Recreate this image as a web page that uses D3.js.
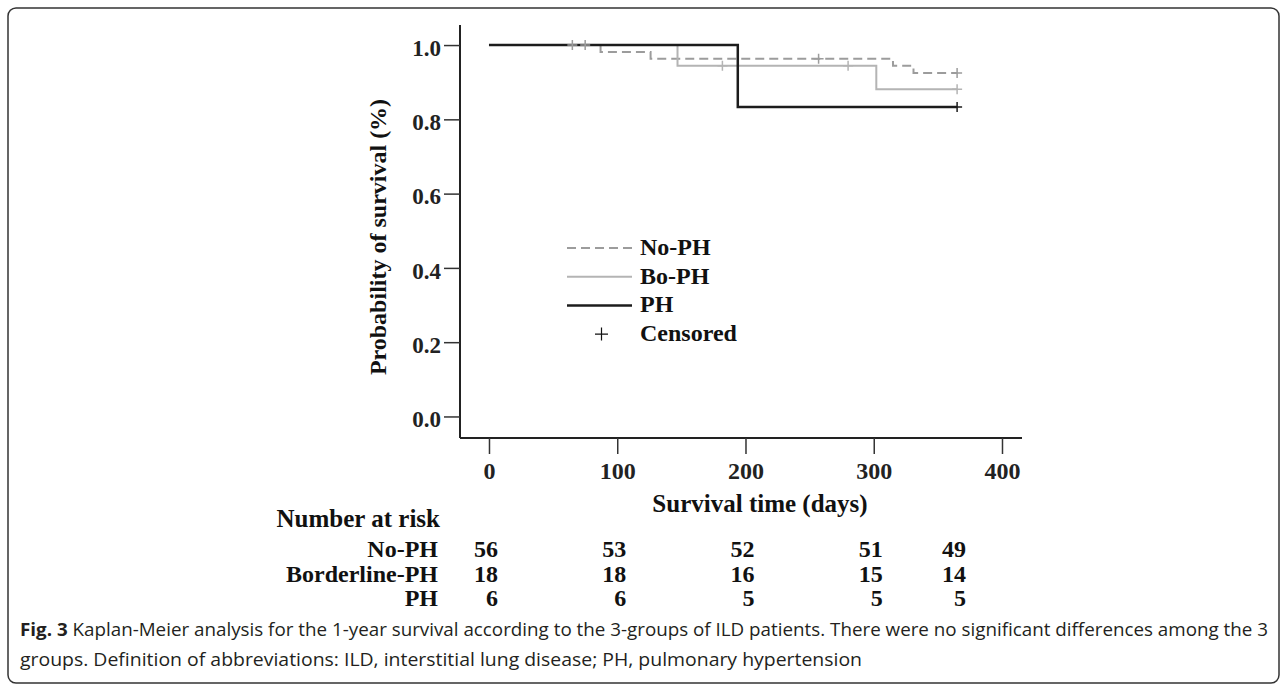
<!DOCTYPE html>
<html>
<head>
<meta charset="utf-8">
<script src="https://cdn.jsdelivr.net/npm/d3@7"></script>
<style>
  body { margin: 0; background: #fff; }
  svg { display: block; }
</style>
</head>
<body>
<script>
// Kaplan-Meier Daten (Zeitpunkte in Tagen, Ueberleben als Anteil)
const noPhTimes = [0, 87, 126, 315, 331];
const noPhSurv = [1, 0.981, 0.963, 0.944, 0.925];
const noPhCensored = [65, 75, 257, 365];

const boPhTimes = [0, 147, 302];
const boPhSurv = [1, 0.944, 0.881];
const boPhCensored = [182, 280, 365];

const phTimes = [0, 194];
const phSurv = [1, 0.833];
const phCensored = [365];

const endTime = 365;

// Achsen-Ticks
const xTicks = [0, 100, 200, 300, 400];
const yTicks = [0, 0.2, 0.4, 0.6, 0.8, 1.0];

// Number at risk Tabelle
const riskTimes = [0, 100, 200, 300, 365];
const riskGroups = ["No-PH", "Borderline-PH", "PH"];
const riskNoPh = [56, 53, 52, 51, 49];
const riskBoPh = [18, 18, 16, 15, 14];
const riskPh = [6, 6, 5, 5, 5];

// Legende
const legendLabels = ["No-PH", "Bo-PH", "PH", "Censored"];

const captionBold = "Fig. 3";
const captionLine1 = " Kaplan-Meier analysis for the 1-year survival according to the 3-groups of ILD patients. There were no significant differences among the 3";
const captionLine2 = "groups. Definition of abbreviations: ILD, interstitial lung disease; PH, pulmonary hypertension";

const serif = "'Liberation Serif', 'Times New Roman', serif";

const series = [
    {name: "No-PH", times: noPhTimes, surv: noPhSurv, censored: noPhCensored, color: "#9c9c9c", width: 2, dash: "9,5"},
    {name: "Bo-PH", times: boPhTimes, surv: boPhSurv, censored: boPhCensored, color: "#b4b4b4", width: 2, dash: null},
    {name: "PH", times: phTimes, surv: phSurv, censored: phCensored, color: "#1c1c1c", width: 2.5, dash: null}
];

const svg = d3.select("body").append("svg")
    .attr("width", 1287)
    .attr("height", 691);

// Rahmen um die Abbildung
svg.append("rect")
    .attr("x", 8).attr("y", 8)
    .attr("width", 1271).attr("height", 675)
    .attr("rx", 8)
    .attr("fill", "none")
    .attr("stroke", "#333")
    .attr("stroke-width", 1.5);

// Skalen
const xScale = d3.scaleLinear()
    .domain([-22.6, 415.6])
    .range([460, 1022]);

const yScale = d3.scaleLinear()
    .domain([-0.058, 1.054])
    .range([438, 25]);

// Achsenlinien
svg.append("line")
    .attr("x1", xScale.range()[0]).attr("x2", xScale.range()[0])
    .attr("y1", yScale.range()[1]).attr("y2", yScale.range()[0])
    .attr("stroke", "#222").attr("stroke-width", 2);
svg.append("line")
    .attr("x1", xScale.range()[0]).attr("x2", xScale.range()[1])
    .attr("y1", yScale.range()[0]).attr("y2", yScale.range()[0])
    .attr("stroke", "#222").attr("stroke-width", 2);

// Y-Achse
const yAxis = svg.append("g")
    .attr("transform", `translate(${xScale.range()[0]},0)`)
    .call(d3.axisLeft(yScale).tickValues(yTicks).tickFormat(d3.format(".1f")).tickSize(16).tickPadding(3));
yAxis.select(".domain").remove();
yAxis.selectAll("line").attr("stroke", "#333").attr("stroke-width", 1.5);
yAxis.selectAll("text")
    .attr("font-family", serif).attr("font-weight", "bold").attr("font-size", 23)
    .attr("fill", "#222").attr("dy", "0.45em");

// X-Achse
const xAxis = svg.append("g")
    .attr("transform", `translate(0,${yScale.range()[0]})`)
    .call(d3.axisBottom(xScale).tickValues(xTicks).tickFormat(d3.format("d")).tickSize(16).tickPadding(8));
xAxis.select(".domain").remove();
xAxis.selectAll("line").attr("stroke", "#333").attr("stroke-width", 1.5);
xAxis.selectAll("text")
    .attr("font-family", serif).attr("font-weight", "bold").attr("font-size", 24)
    .attr("fill", "#222").attr("dy", "0.71em");

// Achsentitel
svg.append("text")
    .attr("x", 760).attr("y", 512)
    .attr("text-anchor", "middle")
    .attr("font-family", serif).attr("font-weight", "bold").attr("font-size", 25)
    .attr("fill", "#111")
    .text("Survival time (days)");

svg.append("text")
    .attr("transform", "translate(386,237) rotate(-90)")
    .attr("text-anchor", "middle")
    .attr("font-family", serif).attr("font-weight", "bold").attr("font-size", 24)
    .attr("fill", "#111")
    .text("Probability of survival (%)");

// Stufenkurven
const line = d3.line()
    .x(d => xScale(d[0]))
    .y(d => yScale(d[1]))
    .curve(d3.curveStepAfter);

series.forEach(s => {
    const pts = s.times.map((t, i) => [t, s.surv[i]]);
    pts.push([endTime, s.surv[s.surv.length - 1]]);
    svg.append("path")
        .datum(pts)
        .attr("d", line)
        .attr("fill", "none")
        .attr("stroke", s.color)
        .attr("stroke-width", s.width)
        .attr("stroke-dasharray", s.dash);
});

// Zensierte Beobachtungen als "+"
function survAt(s, t) {
    let v = s.surv[0];
    s.times.forEach((tt, i) => { if (tt <= t) v = s.surv[i]; });
    return v;
}

series.forEach(s => {
    svg.selectAll(null)
        .data(s.censored)
        .join("path")
        .attr("d", d => {
            const cx = xScale(d), cy = yScale(survAt(s, d));
            return `M${cx - 5},${cy}H${cx + 5}M${cx},${cy - 5}V${cy + 5}`;
        })
        .attr("fill", "none")
        .attr("stroke", s.color)
        .attr("stroke-width", 1.5);
});

// Legende
const legend = svg.append("g");
legendLabels.forEach((label, i) => {
    const by = 255 + i * 28.7;
    const s = series[i];
    if (s) {
        legend.append("line")
            .attr("x1", 567).attr("x2", 632)
            .attr("y1", by - 7).attr("y2", by - 7)
            .attr("stroke", s.color)
            .attr("stroke-width", s.width)
            .attr("stroke-dasharray", s.dash);
    } else {
        legend.append("path")
            .attr("d", `M${595},${by - 7}H${608}M${601.5},${by - 13.5}V${by - 0.5}`)
            .attr("stroke", "#111")
            .attr("stroke-width", 1.2);
    }
    legend.append("text")
        .attr("x", 640).attr("y", by)
        .attr("font-family", serif).attr("font-weight", "bold").attr("font-size", 24)
        .attr("fill", "#111")
        .text(label);
});

// Number at risk Tabelle
const riskRows = [riskNoPh, riskBoPh, riskPh];
svg.append("text")
    .attr("x", 440).attr("y", 527)
    .attr("text-anchor", "end")
    .attr("font-family", serif).attr("font-weight", "bold").attr("font-size", 25)
    .attr("fill", "#111")
    .text("Number at risk");

riskRows.forEach((row, r) => {
    const by = 557 + r * 24.5;
    svg.append("text")
        .attr("x", 438).attr("y", by)
        .attr("text-anchor", "end")
        .attr("font-family", serif).attr("font-weight", "bold").attr("font-size", 24)
        .attr("fill", "#111")
        .text(riskGroups[r]);
    svg.selectAll(null)
        .data(row)
        .join("text")
        .attr("x", (d, i) => xScale(riskTimes[i]) + 9)
        .attr("y", by)
        .attr("text-anchor", "end")
        .attr("font-family", serif).attr("font-weight", "bold").attr("font-size", 24)
        .attr("fill", "#111")
        .text(d => d);
});

// Bildunterschrift
const cap1 = svg.append("text")
    .attr("x", 20).attr("y", 636)
    .attr("font-family", "'Open Sans', sans-serif").attr("font-size", 18.5)
    .attr("textLength", 1248)
    .attr("lengthAdjust", "spacingAndGlyphs")
    .attr("fill", "#231f20");
cap1.append("tspan").attr("font-weight", "bold").text(captionBold);
cap1.append("tspan").text(captionLine1);

svg.append("text")
    .attr("x", 20).attr("y", 666)
    .attr("font-family", "'Open Sans', sans-serif").attr("font-size", 18.5)
    .attr("textLength", 842)
    .attr("lengthAdjust", "spacingAndGlyphs")
    .attr("fill", "#231f20")
    .text(captionLine2);
</script>
</body>
</html>
